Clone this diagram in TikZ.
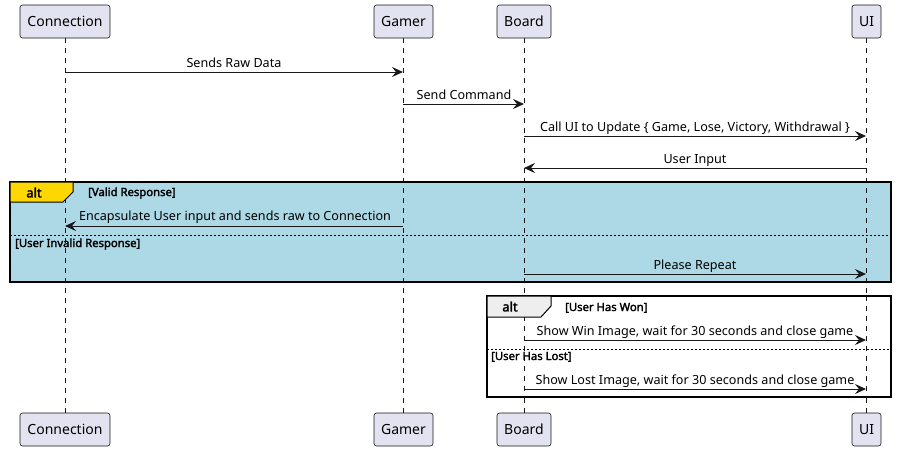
\documentclass[tikz,border=0pt]{standalone}
\usepackage{fontspec}
\setmainfont{Noto Sans}[BoldFont={Noto Sans}, BoldFeatures={FakeBold=2.2}]
\usetikzlibrary{arrows.meta}
\definecolor{partfill}{HTML}{E2E2F0}
\definecolor{partdraw}{HTML}{181818}
\definecolor{altblue}{HTML}{ADD8E6}
\definecolor{altgold}{HTML}{FFD700}
\definecolor{altgrey}{HTML}{EEEEEE}
\tikzset{
 part/.style={draw=partdraw, fill=partfill, rounded corners=2.5pt, minimum height=33pt, inner sep=0pt, font=\fontsize{14}{16}\selectfont, line width=0.6pt},
 life/.style={draw=partdraw, dash pattern=on 5pt off 5pt, line width=0.5pt},
 msg/.style={draw=partdraw, line width=0.9pt, -{Stealth[length=11pt,width=10pt,inset=4pt]}},
 lbl/.style={font=\fontsize{12.6}{14}\selectfont, inner sep=0pt, anchor=base},
 guard/.style={font=\bfseries\fontsize{11.3}{13}\selectfont, inner sep=0pt, anchor=base west},
 frame/.style={draw=black, line width=1.5pt},
 tab/.style={draw=black, line width=1pt},
 sep/.style={draw=black, line width=0.8pt, dash pattern=on 2pt off 2pt},
 altlbl/.style={font=\bfseries\fontsize{13}{15}\selectfont, inner sep=0pt},
}
\begin{document}
\begin{tikzpicture}[x=1pt,y=1pt]
\useasboundingbox (0,0) rectangle (897,-451);
% alt backgrounds
\fill[altblue] (10,-182) rectangle (891,-282);
% participants
\node[part, minimum width=90pt] (conT) at (65,-21.5) {Connection};
\node[part, minimum width=59pt] (gamT) at (403.5,-21.5) {Gamer};
\node[part, minimum width=54pt] (brdT) at (524,-21.5) {Board};
\node[part, minimum width=29pt] (uiT) at (866.5,-21.5) {UI};
\node[part, minimum width=90pt] (conB) at (65,-429.5) {Connection};
\node[part, minimum width=59pt] (gamB) at (403.5,-429.5) {Gamer};
\node[part, minimum width=54pt] (brdB) at (524,-429.5) {Board};
\node[part, minimum width=29pt] (uiB) at (866.5,-429.5) {UI};
% lifelines
\draw[life] (65,-38) -- (65,-413);
\draw[life] (403,-38) -- (403,-413);
\draw[life] (524,-38) -- (524,-413);
\draw[life] (866,-38) -- (866,-413);
% messages
\coordinate (m1s) at (65,-72);  \coordinate (m1e) at (403,-72);
\draw[msg] (m1s) -- (m1e);
\node[lbl] (l1) at (234,-67) {Sends Raw Data};
\coordinate (m2s) at (403,-104); \coordinate (m2e) at (524,-104);
\draw[msg] (m2s) -- (m2e);
\node[lbl] (l2) at (464,-99) {Send Command};
\coordinate (m3s) at (524,-136); \coordinate (m3e) at (866,-136);
\draw[msg] (m3s) -- (m3e);
\node[lbl] (l3) at (695,-131) {Call UI to Update \{ Game, Lose, Victory, Withdrawal \}};
\coordinate (m4s) at (866,-168); \coordinate (m4e) at (524,-168);
\draw[msg] (m4s) -- (m4e);
\node[lbl] (l4) at (695,-163) {User Input};
% alt 1
\coordinate (m5s) at (403,-226); \coordinate (m5e) at (65,-226);
\draw[msg] (m5s) -- (m5e);
\node[lbl] (l5) at (235,-220) {Encapsulate User input and sends raw to Connection};
\draw[sep] (10,-235) -- (891,-235);
\coordinate (m6s) at (524,-274); \coordinate (m6e) at (866,-274);
\draw[msg] (m6s) -- (m6e);
\node[lbl] (l6) at (695,-269) {Please Repeat};
\draw[frame] (10,-182) rectangle (891,-282);
\draw[tab, fill=altgold] (10,-182) -- (73,-182) -- (73,-192) -- (63,-202) -- (10,-202) -- cycle;
\node[altlbl] (a1) at (34,-192.5) {alt};
\node[guard] (g1) at (88,-196) {[Valid Response]};
\node[guard] (g2) at (15,-247) {[User Invalid Response]};
% alt 2
\fill[white] (487,-296) rectangle (891,-397);
\draw[life] (524,-296) -- (524,-397);
\draw[life] (866,-296) -- (866,-397);
\draw[sep] (487,-349) -- (891,-349);
\coordinate (m7s) at (524,-340); \coordinate (m7e) at (866,-340);
\draw[msg] (m7s) -- (m7e);
\node[lbl] (l7) at (695,-335) {Show Win Image, wait for 30 seconds and close game};
\coordinate (m8s) at (524,-389); \coordinate (m8e) at (866,-389);
\draw[msg] (m8s) -- (m8e);
\node[lbl] (l8) at (695,-384) {Show Lost Image, wait for 30 seconds and close game};
\draw[frame] (487,-296) rectangle (891,-397);
\draw[tab, fill=altgrey] (487,-296) -- (551,-296) -- (551,-306) -- (541,-317) -- (487,-317) -- cycle;
\node[altlbl] (a2) at (510,-306.5) {alt};
\node[guard] (g3) at (565,-311) {[User Has Won]};
\node[guard] (g4) at (491,-360) {[User Has Lost]};
\end{tikzpicture}
\end{document}
